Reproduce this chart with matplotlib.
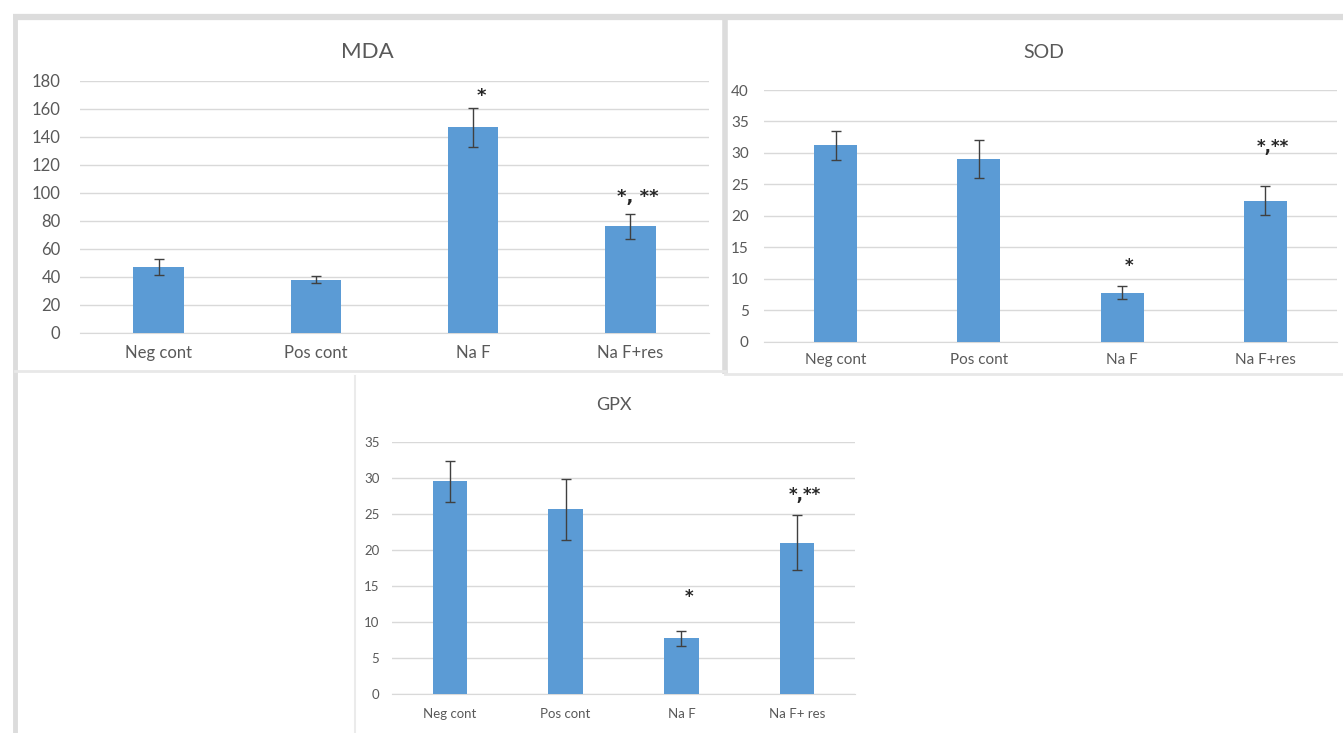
import numpy as np
import matplotlib.pyplot as plt

plt.rcParams['font.family'] = ['Lato', 'DejaVu Sans']

groups = ["Neg cont", "Pos cont", "Na F", "Na F+res"]
gpx_groups = ["Neg cont", "Pos cont", "Na F", "Na F+ res"]

mda = [47, 38, 147, 76]
mda_err = [6, 2.5, 14, 9]
mda_marks = ["", "", "*", "*, **"]
mda_mark_y = [0, 0, 169, 97]

sod = [31.2, 29.0, 7.8, 22.4]
sod_err = [2.3, 3.0, 1.0, 2.3]
sod_marks = ["", "", "*", "*,**"]
sod_mark_y = [0, 0, 12.0, 31.0]

gpx = [29.5, 25.6, 7.7, 21.0]
gpx_err = [2.8, 4.2, 1.1, 3.8]
gpx_marks = ["", "", "*", "*,**"]
gpx_mark_y = [0, 0, 13.4, 27.6]

W, H = 1343, 733
BLUE = "#5b9bd5"
GRID = "#d9d9d9"
TXT = "#595959"

fig = plt.figure(figsize=(W / 100, H / 100), dpi=100)

# panel frames drawn in pixel space on a background axes
bg = fig.add_axes([0, 0, 1, 1])
bg.set_xlim(0, W)
bg.set_ylim(H, 0)
bg.axis("off")
frame = "#dcdcdc"
bg.plot([13, W], [17, 17], color=frame, lw=4.5, solid_capstyle="butt")
bg.plot([15, 15], [15, H], color=frame, lw=3.5, solid_capstyle="butt")
bg.plot([725, 725], [15, 374], color=frame, lw=4, solid_capstyle="butt")
bg.plot([15, 725], [371, 371], color="#e8e8e8", lw=2)
bg.plot([725, W], [374, 374], color="#e8e8e8", lw=2)
bg.plot([355, 355], [376, H], color="#ebebeb", lw=1.5)


def panel(px, values, errs, names, marks, mark_y, ymax, ystep, width,
          tick_fs, title, title_xy, title_fs, ypad, xpad, mark_fs, mark_dx):
    x0, y0, x1, y1 = px
    ax = fig.add_axes([x0 / W, 1 - y1 / H, (x1 - x0) / W, (y1 - y0) / H])
    x = np.arange(len(values))
    ax.bar(x, values, width=width, color=BLUE, zorder=3)
    ax.errorbar(x, values, yerr=errs, fmt="none", ecolor="#404040",
                elinewidth=1, capsize=3.5, capthick=1, zorder=4)
    for i, (m, my) in enumerate(zip(marks, mark_y)):
        if m:
            ax.text(i + mark_dx, my, m, ha="center", va="center",
                    fontsize=mark_fs, fontweight="bold", color="#262626",
                    family="DejaVu Sans", zorder=5)
    ax.set_xlim(-0.5, len(values) - 0.5)
    ax.set_ylim(0, ymax)
    ax.set_yticks(np.arange(0, ymax + ystep / 2, ystep))
    ax.set_xticks(x)
    ax.set_xticklabels(names)
    ax.yaxis.grid(True, color=GRID, lw=1)
    ax.set_axisbelow(True)
    for s in ["top", "right", "left"]:
        ax.spines[s].set_visible(False)
    ax.spines["bottom"].set_color(GRID)
    ax.tick_params(axis="both", length=0, labelsize=tick_fs, colors=TXT)
    ax.tick_params(axis="y", pad=ypad)
    ax.tick_params(axis="x", pad=xpad)
    ax.patch.set_alpha(0)
    bg.text(title_xy[0], title_xy[1], title, ha="center", va="center",
            fontsize=title_fs, color=TXT)
    return ax


panel((80, 81, 709, 332.7), mda, mda_err, groups, mda_marks, mda_mark_y,
      180, 20, 0.32, 12, "MDA", (367, 52), 16, 14, 9, 13, 0.05)
panel((764, 90, 1337, 341.7), sod, sod_err, groups, sod_marks, sod_mark_y,
      40, 5, 0.30, 11, "SOD", (1044, 52), 14, 11, 8, 12, 0.05)
panel((392, 441.7, 855, 694), gpx, gpx_err, gpx_groups, gpx_marks, gpx_mark_y,
      35, 5, 0.30, 9.5, "GPX", (614, 405), 13, 9, 10, 12, 0.07)

fig.savefig("out.png", dpi=100, facecolor="white")
